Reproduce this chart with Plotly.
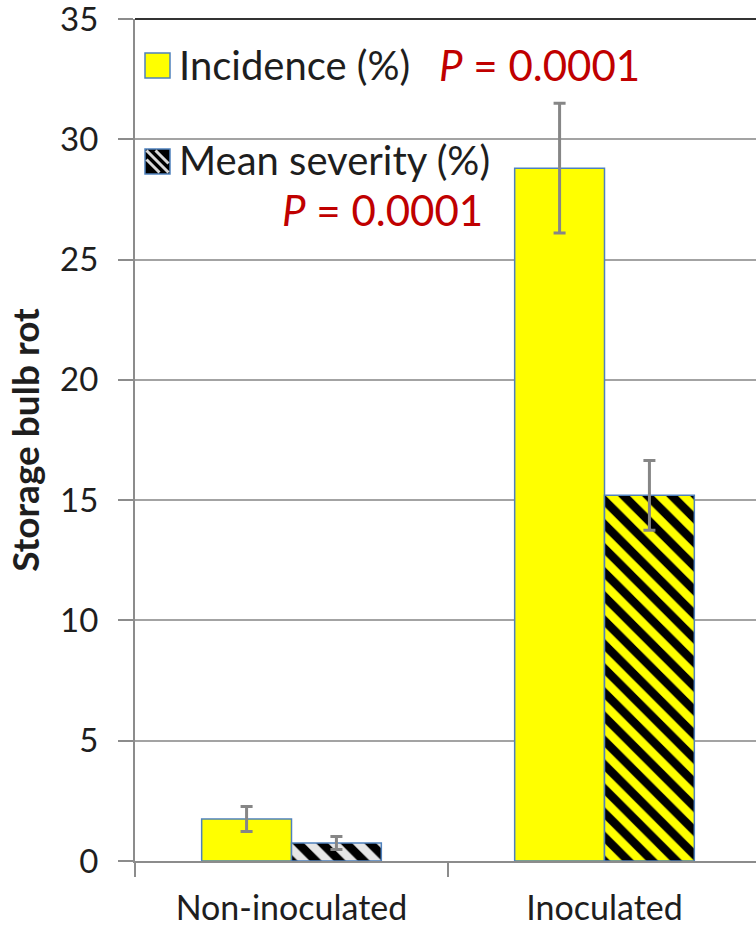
import plotly.graph_objects as go

# ---- data ----
categories = ["Non-inoculated", "Inoculated"]
incidence = [1.75, 28.8]
incidence_err = [0.52, 2.7]
severity = [0.75, 15.2]
severity_err = [0.27, 1.45]
series_names = ["Incidence (%)", "Mean severity (%)"]
p_labels = ["<i>P</i> = 0.0001", "<i>P</i> = 0.0001"]
y_ticks = [0, 5, 10, 15, 20, 25, 30, 35]

FONT = "Lato"
TXT = "#1e1e1e"
GRID = "#a3a3a3"
EDGE = "#4f81bd"
ERR = "#868686"
RED = "#c00000"

W, H = 756, 927
ML, MR, MT, MB = 135, 0, 19, 66
PW, PH = W - ML - MR, H - MT - MB


def px_x(px):
    return (px - ML) / PW


def px_y(py):
    return 1 - (py - MT) / PH


fig = go.Figure()
fig.add_trace(go.Bar(
    x=categories, y=incidence, name=series_names[0], showlegend=False,
    marker=dict(color="#ffff00", line=dict(color=EDGE, width=1.5)),
    error_y=dict(type="data", array=incidence_err, color=ERR, thickness=3, width=6),
))
fig.add_trace(go.Bar(
    x=categories, y=severity, name=series_names[1], showlegend=False,
    marker=dict(
        color="#000000",
        line=dict(color=EDGE, width=1.5),
        pattern=dict(shape="\\", bgcolor=["#000000", "#000000"],
                     fgcolor=["#e6e6e6", "#ffff00"], fgopacity=1,
                     size=17, solidity=0.5),
    ),
    error_y=dict(type="data", array=severity_err, color=ERR, thickness=3, width=6),
))

# ---- legend drawn as swatches + labels (paper coordinates) ----
shapes = []
# frame line along the top of the plot
shapes.append(dict(type="line", xref="paper", yref="paper", x0=0, x1=1, y0=1, y1=1,
                   line=dict(color="#333333", width=2)))
# swatch 1: incidence
shapes.append(dict(type="rect", xref="paper", yref="paper",
                   x0=px_x(145), x1=px_x(170), y0=px_y(78), y1=px_y(53),
                   fillcolor="#ffff00", line=dict(color=EDGE, width=1.5)))
# swatch 2: severity (black with light diagonal stripes)
sx0, sx1, sy0, sy1 = 145, 170, 149, 174
shapes.append(dict(type="rect", xref="paper", yref="paper",
                   x0=px_x(sx0), x1=px_x(sx1), y0=px_y(sy1), y1=px_y(sy0),
                   fillcolor="#000000", line=dict(color=EDGE, width=1.5)))
for off in (-9, 0, 9):
    ax0 = max(sx0, sx0 + off)
    ay0 = max(sy0, sy0 - off)
    ax1 = min(sx1, sx1 + off)
    ay1 = min(sy1, sy1 - off)
    shapes.append(dict(type="line", xref="paper", yref="paper",
                       x0=px_x(ax0 + 1.5), y0=px_y(ay0 + 1.5),
                       x1=px_x(ax1 - 1.5), y1=px_y(ay1 - 1.5),
                       line=dict(color="#d8d8d8", width=3)))

annotations = [
    dict(text=series_names[0], xref="paper", yref="paper", x=px_x(177), y=px_y(65),
         xanchor="left", yanchor="middle", showarrow=False,
         font=dict(family=FONT, size=40, color=TXT)),
    dict(text=series_names[1], xref="paper", yref="paper", x=px_x(177), y=px_y(160),
         xanchor="left", yanchor="middle", showarrow=False,
         font=dict(family=FONT, size=40, color=TXT)),
    dict(text=p_labels[0], xref="paper", yref="paper", x=px_x(437), y=px_y(65),
         xanchor="left", yanchor="middle", showarrow=False,
         font=dict(family=FONT, size=42, color=RED)),
    dict(text=p_labels[1], xref="paper", yref="paper", x=px_x(280), y=px_y(210),
         xanchor="left", yanchor="middle", showarrow=False,
         font=dict(family=FONT, size=42, color=RED)),
]

fig.update_layout(
    width=W, height=H,
    margin=dict(l=ML, r=MR, t=MT, b=MB, pad=0, autoexpand=False),
    paper_bgcolor="white", plot_bgcolor="white",
    barmode="group", bargap=0.426, bargroupgap=0,
    font=dict(family=FONT, color=TXT),
    showlegend=False,
    xaxis=dict(
        type="category", categoryorder="array", categoryarray=categories,
        range=[-0.5, -0.5 + PW / 313.0], automargin=False,
        showline=True, linecolor="#8c8c8c", linewidth=2,
        ticks="outside", tickson="boundaries", ticklen=14, tickwidth=2, tickcolor="#8c8c8c",
        showgrid=False, zeroline=False,
        tickfont=dict(family=FONT, size=34, color=TXT),
        ticklabelstandoff=16, ticklabeloverflow="allow",
    ),
    yaxis=dict(
        range=[0, 35], tickvals=y_ticks, automargin=False,
        showline=True, linecolor="#8c8c8c", linewidth=2,
        ticks="outside", ticklen=15, tickwidth=2, tickcolor="#8c8c8c",
        showgrid=True, gridcolor=GRID, gridwidth=2, zeroline=False,
        tickfont=dict(family=FONT, size=33, color=TXT),
        ticklabelstandoff=13, ticklabeloverflow="allow",
        title=dict(text="<b>Storage bulb rot</b>", font=dict(family=FONT, size=37, color=TXT), standoff=9),
    ),
    shapes=shapes,
    annotations=annotations,
)

fig.write_html(
    "out.html",
    config={"displayModeBar": False},
    post_script="document.body.style.margin='0';document.body.style.overflow='hidden';",
)
